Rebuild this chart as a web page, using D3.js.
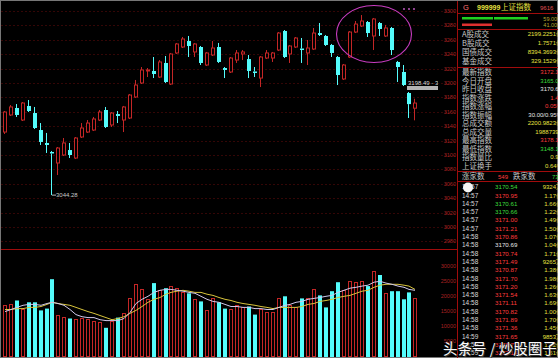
<!DOCTYPE html>
<html>
<head>
<meta charset="utf-8">
<script src="https://d3js.org/d3.v7.min.js"></script>
<style>
  body { margin: 0; background: #000; }
  svg { display: block; }
  .num { font-family: "Liberation Sans", Arial, sans-serif; }
  .cjk { font-family: "Noto Sans CJK SC", sans-serif; }
</style>
</head>
<body>
<svg width="558" height="358"></svg>
<script>
// daily candles, 70 sessions
const open_ = [3131.9, 3155.6, 3165.3, 3148.6, 3168.1, 3158.3, 3134.7, 3116.7, 3104.2, 3088.9,
  3100.0, 3106.9, 3095.8, 3125.0, 3131.9, 3134.7, 3148.6, 3162.5, 3141.7, 3156.9,
  3148.6, 3151.4, 3180.6, 3200.0, 3216.7, 3216.7, 3208.3, 3227.8, 3198.6, 3241.7,
  3250.0, 3258.3, 3243.1, 3250.0, 3225.0, 3238.9, 3250.0, 3220.8, 3215.3, 3231.9,
  3240.3, 3233.3, 3216.0, 3206.9, 3234.7, 3234.7, 3245.8, 3272.2, 3240.3, 3250.0,
  3247.9, 3241.7, 3247.2, 3269.4, 3265.3, 3252.8, 3236.1, 3205.6, 3236.1, 3270.8,
  3279.2, 3284.7, 3265.3, 3283.3, 3265.3, 3276.4, 3229.2, 3215.3, 3186.1, 3165.0];
const high = [3161.1, 3169.4, 3170.8, 3173.6, 3176.4, 3166.7, 3144.4, 3130.6, 3105.6, 3111.1,
  3123.6, 3116.7, 3125.0, 3144.4, 3148.6, 3152.8, 3162.5, 3166.7, 3159.7, 3161.1,
  3168.1, 3184.7, 3204.2, 3222.2, 3220.8, 3236.1, 3231.9, 3237.5, 3241.7, 3255.6,
  3263.9, 3265.3, 3255.6, 3251.4, 3243.1, 3258.3, 3255.6, 3222.2, 3236.1, 3245.8,
  3245.8, 3238.9, 3222.2, 3237.5, 3245.8, 3243.1, 3270.8, 3273.6, 3252.8, 3263.9,
  3262.5, 3259.7, 3276.4, 3283.3, 3266.7, 3254.2, 3237.5, 3226.4, 3272.2, 3286.1,
  3294.4, 3286.1, 3290.3, 3284.7, 3280.6, 3277.8, 3230.6, 3225.0, 3187.5, 3178.15];
const low = [3129.2, 3154.2, 3152.8, 3147.2, 3159.7, 3136.1, 3113.9, 3102.8, 3044.28, 3072.2,
  3098.6, 3095.8, 3094.4, 3123.6, 3130.6, 3133.3, 3147.2, 3137.5, 3138.9, 3144.4,
  3131.9, 3150.0, 3179.2, 3198.6, 3208.3, 3206.9, 3206.9, 3200.0, 3197.2, 3240.3,
  3248.6, 3236.1, 3236.1, 3225.0, 3223.6, 3237.5, 3227.8, 3206.9, 3213.9, 3227.8,
  3231.9, 3206.9, 3208.3, 3194.4, 3233.3, 3229.2, 3244.4, 3234.7, 3227.8, 3248.6,
  3227.8, 3225.0, 3245.8, 3265.3, 3251.4, 3236.1, 3197.2, 3204.2, 3234.7, 3269.4,
  3277.8, 3263.9, 3245.8, 3265.3, 3263.9, 3238.9, 3201.4, 3195.8, 3151.4, 3148.15];
const close_ = [3159.7, 3166.7, 3155.6, 3172.2, 3161.1, 3137.5, 3118.1, 3113.9, 3102.1, 3109.7,
  3116.7, 3100.0, 3123.6, 3137.5, 3144.4, 3150.0, 3159.7, 3138.9, 3158.3, 3154.2,
  3166.7, 3183.3, 3197.2, 3218.1, 3218.1, 3212.5, 3229.2, 3201.4, 3240.3, 3254.2,
  3261.1, 3251.4, 3254.2, 3227.8, 3241.7, 3248.6, 3229.2, 3218.1, 3234.7, 3241.7,
  3243.1, 3216.7, 3213.9, 3236.1, 3241.7, 3241.7, 3269.4, 3236.1, 3251.4, 3262.5,
  3245.8, 3248.6, 3269.4, 3266.7, 3252.8, 3241.7, 3211.1, 3225.0, 3270.8, 3281.9,
  3286.1, 3269.4, 3288.9, 3275.0, 3276.4, 3245.8, 3222.2, 3197.2, 3170.69, 3172.14];
const volume = [16900, 17500, 18500, 15800, 17900, 17900, 15200, 15800, 25600, 13800,
  13100, 12500, 12500, 12800, 12500, 11800, 11500, 9400, 11800, 12800,
  14500, 19200, 23900, 22200, 18900, 24300, 21900, 22600, 23300, 22600,
  21200, 20900, 18900, 18200, 15500, 19200, 17900, 15800, 15800, 16900,
  16200, 16500, 13800, 15800, 14800, 14800, 19200, 19900, 16900, 16500,
  19200, 19200, 22200, 20200, 16200, 21600, 24600, 21900, 24900, 24600,
  24900, 23300, 28300, 27000, 20900, 21600, 21600, 18900, 21200, 19200];
const volMa5 = [14800, 15500, 16200, 16900, 17200, 17200, 16900, 17500, 17900, 17500,
  16900, 15500, 13800, 13100, 12800, 12800, 12100, 11800, 11800, 11800,
  12500, 14500, 17500, 18900, 19900, 21200, 21900, 22200, 22200, 21900,
  21600, 21200, 20900, 19900, 18900, 18200, 17900, 17200, 16500, 16500,
  16200, 16200, 15800, 15800, 15500, 15500, 16200, 16900, 17200, 17900,
  18200, 18900, 19200, 19500, 19900, 20200, 21200, 21900, 22600, 22900,
  23300, 23600, 24600, 24900, 24300, 23900, 23300, 22900, 22200, 21900];
const volMa10 = [15500, 15500, 15800, 15800, 16200, 16200, 16500, 17200, 17900, 17500,
  17200, 16900, 16200, 15500, 14800, 14200, 13500, 12800, 12100, 12500,
  13100, 14200, 15200, 16500, 17900, 18900, 19500, 20600, 21200, 21600,
  21900, 21600, 21200, 21200, 20600, 20200, 19500, 18900, 18500, 17900,
  17500, 17200, 16900, 16500, 16200, 15800, 16200, 16200, 16200, 16200,
  16500, 17200, 17500, 18200, 18500, 18900, 19500, 19900, 20200, 20900,
  21600, 21900, 22900, 23600, 23900, 23900, 23900, 23600, 23300, 22200];
const priceTicks = [3300, 3280, 3260, 3240, 3220, 3200, 3180, 3160, 3140, 3120,
  3100, 3080, 3060, 3040, 3020, 3000, 2980];
const volTicks = [30000, 25000, 20000, 15000, 10000, 5000];

// right hand quote panel
const prevClose = 3170.69;
const tradeLabels = ["A股成交", "B股成交", "国债成交", "基金成交"];
const tradeValues = ["2199.2251亿", "1.7571亿", "8394.3693亿", "329.1529亿"];
const quoteLabels = ["最新指数", "今日开盘", "昨日收盘", "指数涨跌", "指数涨幅", "指数振幅",
  "总成交额", "总成交量", "最高指数", "最低指数", "指数量比", "上证换手"];
const quoteValues = ["3172.14", "3165.04", "3170.69", "1.45", "0.05%", "30.00/0.95%",
  "2200.9823亿", "19887398", "3178.15", "3148.15", "0.91", "0.64%"];
const quoteKinds = ["up", "down", "flat", "up", "up", "flat", "vol", "vol", "up", "down", "vol", "vol"];
const tickTimes = ["14:57", "14:57", "14:57", "14:57", "14:57", "14:57",
  "14:58", "14:58", "14:58", "14:58", "14:58", "14:58", "14:58", "14:58", "14:58", "14:58", "14:58", "14:58",
  "14:59", "14:59", "14:59"];
const tickPrices = [3170.54, 3170.95, 3170.61, 3170.66, 3171.00, 3171.21, 3170.86, 3170.69, 3170.74,
  3171.49, 3170.87, 3171.70, 3171.20, 3171.54, 3171.11, 3170.82, 3171.89, 3171.36, 3171.65, 3171.72, 3172.14];
const tickVols = ["9324万", "1.17亿", "1.66亿", "1.22亿", "1.49亿", "1.50亿", "1.07亿", "1.04亿", "1.71亿",
  "9265万", "1.38亿", "1.98亿", "1.26亿", "1.63亿", "1.69亿", "1.00亿", "1.70亿", "1.45亿", "9853万", "1.32亿", "1.51亿"];

var UP = "#c42626", DOWN = "#54fcfc", GRID = "#340606", FRAME = "#a00c0c";
var kindColor = { up: "#ff3c3c", down: "#3cdc3c", flat: "#e6e6e6", vol: "#e8e040" };

var svg = d3.select("svg");
var n = close_.length;

var x = d3.scaleBand().domain(d3.range(n)).range([2, 418.5]).paddingInner(0.3).paddingOuter(0.15);
var y = d3.scaleLinear().domain([3300, 2980]).range([11, 241.4]);
var yv = d3.scaleLinear().domain([0, 30000]).range([356, 266]);
var px = function(i) { return Math.round(x(i)); };

// frame + grid
svg.append("rect").attr("x", 0.5).attr("y", 0.5).attr("width", 557).attr("height", 357)
  .attr("fill", "none").attr("stroke", "#777");

svg.append("g").selectAll("line").data(priceTicks).enter().append("line")
  .attr("x1", 1).attr("x2", 457)
  .attr("y1", d => Math.round(y(d)) + 0.5).attr("y2", d => Math.round(y(d)) + 0.5)
  .attr("stroke", GRID).attr("stroke-dasharray", "2,2");

svg.append("line").attr("x1", 1).attr("x2", 457).attr("y1", 249.5).attr("y2", 249.5)
  .attr("stroke", FRAME);

// price axis (right side)
svg.append("g").selectAll("text").data(priceTicks).enter().append("text")
  .attr("class", "num").attr("x", 456).attr("y", d => y(d) + 2)
  .attr("text-anchor", "end").attr("font-size", 5.5).attr("fill", "#a82222")
  .text(d => d);

svg.append("g").selectAll("text").data(volTicks).enter().append("text")
  .attr("class", "num").attr("x", 456).attr("y", d => yv(d) + 2)
  .attr("text-anchor", "end").attr("font-size", 5.5).attr("fill", "#a82222")
  .text(d => d);

// candles
var plot = svg.append("g");
plot.append("clipPath").attr("id", "clipMain")
  .append("rect").attr("x", 0).attr("y", 0).attr("width", 438).attr("height", 249);

var candles = plot.append("g").attr("clip-path", "url(#clipMain)")
  .selectAll("g").data(d3.range(n)).enter().append("g");

candles.each(function(i) {
  var g = d3.select(this);
  var up = close_[i] >= open_[i];
  var cx = px(i) + 1.5;
  var top = y(Math.max(open_[i], close_[i])), bot = y(Math.min(open_[i], close_[i]));
  if (bot - top < 1) bot = top + 1;
  var col = up ? UP : DOWN;
  g.append("line").attr("x1", cx).attr("x2", cx).attr("y1", y(high[i])).attr("y2", top)
    .attr("stroke", col);
  g.append("line").attr("x1", cx).attr("x2", cx).attr("y1", bot).attr("y2", y(low[i]))
    .attr("stroke", col);
  if (up) {
    g.append("rect").attr("x", px(i) + 0.5).attr("y", top).attr("width", 3).attr("height", bot - top)
      .attr("fill", "#000").attr("stroke", col);
  } else {
    g.append("rect").attr("x", px(i)).attr("y", top).attr("width", 4).attr("height", bot - top)
      .attr("fill", col);
  }
});

// low marker
var iLow = d3.minIndex(low);
plot.append("line").attr("x1", px(iLow) + 2).attr("x2", px(iLow) + 6)
  .attr("y1", y(low[iLow])).attr("y2", y(low[iLow])).attr("stroke", "#bbb");
plot.append("text").attr("class", "num").attr("x", px(iLow) + 6).attr("y", y(low[iLow]) + 2.2)
  .attr("font-size", 6).attr("fill", "#c8c8c8").text(low[iLow].toFixed(2));

// cross-hair read out at the right edge
plot.append("text").attr("class", "num").attr("clip-path", "url(#clipMain)")
  .attr("x", 408).attr("y", y(3198.49) + 1).attr("font-size", 6).attr("fill", "#d8d8d8")
  .text("3198.49 - 3198.49");
plot.append("rect").attr("x", 407).attr("y", 86).attr("width", 31).attr("height", 4).attr("fill", "#b4b4b4");

// highlight ellipse over the top
plot.append("ellipse").attr("cx", 374).attr("cy", 34).attr("rx", 37.5).attr("ry", 28.5)
  .attr("fill", "none").attr("stroke", "#c83cc0").attr("stroke-width", 1.1);
plot.selectAll(".dot").data([404, 409, 414]).enter().append("circle")
  .attr("cx", d => d).attr("cy", 9).attr("r", 0.9).attr("fill", "#d060d0");

// volume bars
var vb = svg.append("g").selectAll("g").data(d3.range(n)).enter().append("g");
vb.each(function(i) {
  var g = d3.select(this);
  var up = close_[i] >= open_[i];
  if (up) {
    g.append("rect").attr("x", px(i) + 0.5).attr("y", Math.round(yv(volume[i])) + 0.5)
      .attr("width", 3).attr("height", 356 - Math.round(yv(volume[i])))
      .attr("fill", "#000").attr("stroke", UP);
  } else {
    g.append("rect").attr("x", px(i)).attr("y", yv(volume[i]))
      .attr("width", 4).attr("height", 357 - yv(volume[i])).attr("fill", DOWN);
  }
});

var maLine = function(arr) {
  return d3.line().x((d, i) => px(i) + 2).y(d => yv(d))(arr);
};
svg.append("path").attr("d", maLine(volMa10)).attr("fill", "none").attr("stroke", "#d8c43c").attr("stroke-width", 1);
svg.append("path").attr("d", maLine(volMa5)).attr("fill", "none").attr("stroke", "#d0c8ec").attr("stroke-width", 1);

// ---- quote panel ----
var P = 457;
svg.append("line").attr("x1", P + 0.5).attr("x2", P + 0.5).attr("y1", 1).attr("y2", 358).attr("stroke", FRAME);
[13, 29, 67, 171, 181].forEach(function(yy) {
  svg.append("line").attr("x1", P).attr("x2", 558).attr("y1", yy + 0.5).attr("y2", yy + 0.5).attr("stroke", FRAME);
});

svg.append("text").attr("class", "num").attr("x", 463).attr("y", 10).attr("font-size", 7.5)
  .attr("fill", "#ff7070").text("G");
svg.append("text").attr("class", "num").attr("x", 477).attr("y", 10).attr("font-size", 7)
  .attr("font-weight", "bold").attr("fill", "#e8e040").text("999999");
svg.append("text").attr("class", "cjk").attr("x", 501).attr("y", 10).attr("font-size", 7.5)
  .attr("fill", "#e8e040").text("上证指数");
svg.append("text").attr("class", "num").attr("x", 540).attr("y", 10).attr("font-size", 6)
  .attr("fill", "#e05050").text("9616");

// buy / sell strength bars
svg.append("rect").attr("x", 462).attr("y", 17).attr("width", 31).attr("height", 2.5).attr("fill", "#20d020");
svg.append("rect").attr("x", 494).attr("y", 17).attr("width", 34).attr("height", 2.5).attr("fill", "#20d020");
svg.append("rect").attr("x", 462).attr("y", 23.5).attr("width", 30).attr("height", 2.5).attr("fill", "#e03030");
svg.append("text").attr("class", "num").attr("x", 562).attr("y", 20.5).attr("text-anchor", "end")
  .attr("font-size", 5.5).attr("fill", "#b8a830").text("59.00%");
svg.append("text").attr("class", "num").attr("x", 562).attr("y", 27).attr("text-anchor", "end")
  .attr("font-size", 5.5).attr("fill", "#b8a830").text("41.00%");

var rowLabel = function(label, value, cy, col) {
  svg.append("text").attr("class", "cjk").attr("x", 462).attr("y", cy + 3)
    .attr("font-size", 7.5).attr("fill", "#c8c8c8").text(label);
  svg.append("text").attr("class", "num").attr("x", 562).attr("y", cy + 2.2)
    .attr("text-anchor", "end").attr("font-size", 6).attr("fill", col).text(value);
};
tradeLabels.forEach(function(l, k) { rowLabel(l, tradeValues[k], 34 + k * 9, kindColor.vol); });
quoteLabels.forEach(function(l, k) { rowLabel(l, quoteValues[k], 72 + k * 8.5, kindColor[quoteKinds[k]]); });

svg.append("text").attr("class", "cjk").attr("x", 462).attr("y", 179).attr("font-size", 7.5).attr("fill", "#c8c8c8").text("涨家数");
svg.append("text").attr("class", "num").attr("x", 498).attr("y", 178.5).attr("font-size", 6).attr("fill", "#ff3c3c").text("549");
svg.append("text").attr("class", "cjk").attr("x", 513).attr("y", 179).attr("font-size", 7.5).attr("fill", "#c8c8c8").text("跌家数");
svg.append("text").attr("class", "num").attr("x", 562).attr("y", 178.5).attr("text-anchor", "end").attr("font-size", 6).attr("fill", "#3cdc3c").text("735");

// tick by tick list
tickTimes.forEach(function(t, k) {
  var cy = 187 + k * 8.3;
  var pc = tickPrices[k] > prevClose ? kindColor.up : tickPrices[k] < prevClose ? kindColor.down : kindColor.flat;
  svg.append("text").attr("class", "num").attr("x", 462).attr("y", cy + 2.2).attr("font-size", 6.5).attr("fill", "#d8d8d8").text(t);
  svg.append("text").attr("class", "num").attr("x", 495).attr("y", cy + 2.2).attr("font-size", 6.2).attr("fill", pc).text(tickPrices[k].toFixed(2));
  svg.append("text").attr("class", "num").attr("x", 562).attr("y", cy + 2.2).attr("text-anchor", "end").attr("font-size", 6).attr("fill", kindColor.vol).text(tickVols[k]);
});

svg.append("circle").attr("cx", 468).attr("cy", 187.5).attr("r", 5).attr("fill", "#f4f4f4");

// watermark
svg.append("text").attr("class", "cjk").attr("x", 444).attr("y", 354.5).attr("font-size", 14.5)
  .attr("fill", "#333").text("头条号 / 炒股圈子");
svg.append("text").attr("class", "cjk").attr("x", 443).attr("y", 353.5).attr("font-size", 14.5)
  .attr("fill", "#fafafa").text("头条号 / 炒股圈子");
</script>
</body>
</html>
